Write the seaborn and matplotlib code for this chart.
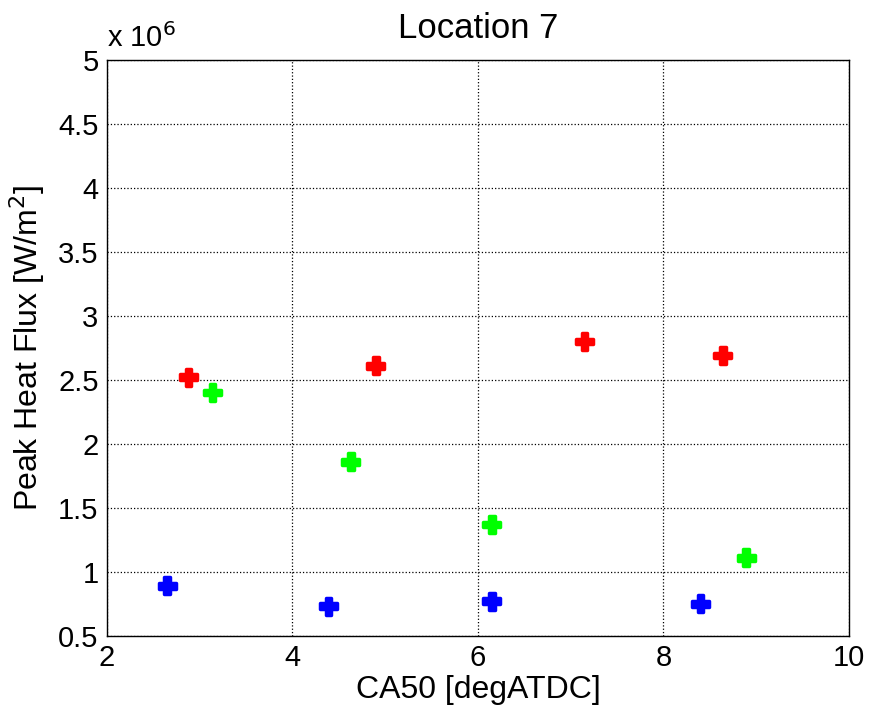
import matplotlib.pyplot as plt
import seaborn as sns
import pandas as pd
import numpy as np

# CA50 [degATDC] and peak heat flux [W/m^2] per group
red_ca50 = [2.88, 4.90, 7.15, 8.64]
red_flux = [2.52e6, 2.61e6, 2.80e6, 2.69e6]
green_ca50 = [3.14, 4.63, 6.15, 8.89]
green_flux = [2.40e6, 1.86e6, 1.37e6, 1.11e6]
blue_ca50 = [2.65, 4.39, 6.15, 8.40]
blue_flux = [0.89e6, 0.73e6, 0.77e6, 0.75e6]
flux_err = 0.07e6

df = pd.DataFrame({
    'ca50': red_ca50 + green_ca50 + blue_ca50,
    'flux': red_flux + green_flux + blue_flux,
    'group': ['red'] * 4 + ['green'] * 4 + ['blue'] * 4,
})
colors = {'red': '#ff0000', 'green': '#00ff00', 'blue': '#0000ff'}

sns.set_style('white')
plt.rcParams['font.family'] = ['Liberation Sans', 'DejaVu Sans']
plt.rcParams['text.color'] = 'black'
plt.rcParams['axes.labelcolor'] = 'black'
plt.rcParams['xtick.color'] = 'black'
plt.rcParams['ytick.color'] = 'black'

fig = plt.figure(figsize=(8.69, 7.2), dpi=100)
ax = fig.add_axes([0.123, 0.117, 0.854, 0.8])

for g, sub in df.groupby('group'):
    ax.errorbar(sub['ca50'], sub['flux'], yerr=flux_err, fmt='none',
                ecolor=colors[g], elinewidth=1.2, capsize=0, zorder=2)

sns.scatterplot(data=df, x='ca50', y='flux', hue='group', palette=colors,
                marker='P', s=150, edgecolor='face', linewidth=2.5, legend=False,
                ax=ax, zorder=3)

ax.set_xlim(2, 10)
ax.set_ylim(0.5e6, 5e6)
ax.set_xticks(np.arange(2, 11, 2))
yt = np.arange(0.5, 5.01, 0.5)
ax.set_yticks(yt * 1e6)
ax.set_yticklabels([f'{v:g}' for v in yt])
ax.tick_params(labelsize=21, direction='in', length=5, color='black', pad=6)
ax.grid(True, color='black', linestyle=':', linewidth=0.9)
for sp in ax.spines.values():
    sp.set_color('black')
    sp.set_linewidth(1)

ax.set_title('Location 7', fontsize=25, pad=16)
ax.set_xlabel('CA50 [degATDC]', fontsize=23, labelpad=2)
ax.set_ylabel('Peak Heat Flux [W/m$^2$]', fontsize=23, labelpad=8)
ax.text(0.0, 1.012, 'x 10$^6$', transform=ax.transAxes, fontsize=21,
        ha='left', va='bottom')

fig.savefig('out.png', dpi=100)
plt.close(fig)
